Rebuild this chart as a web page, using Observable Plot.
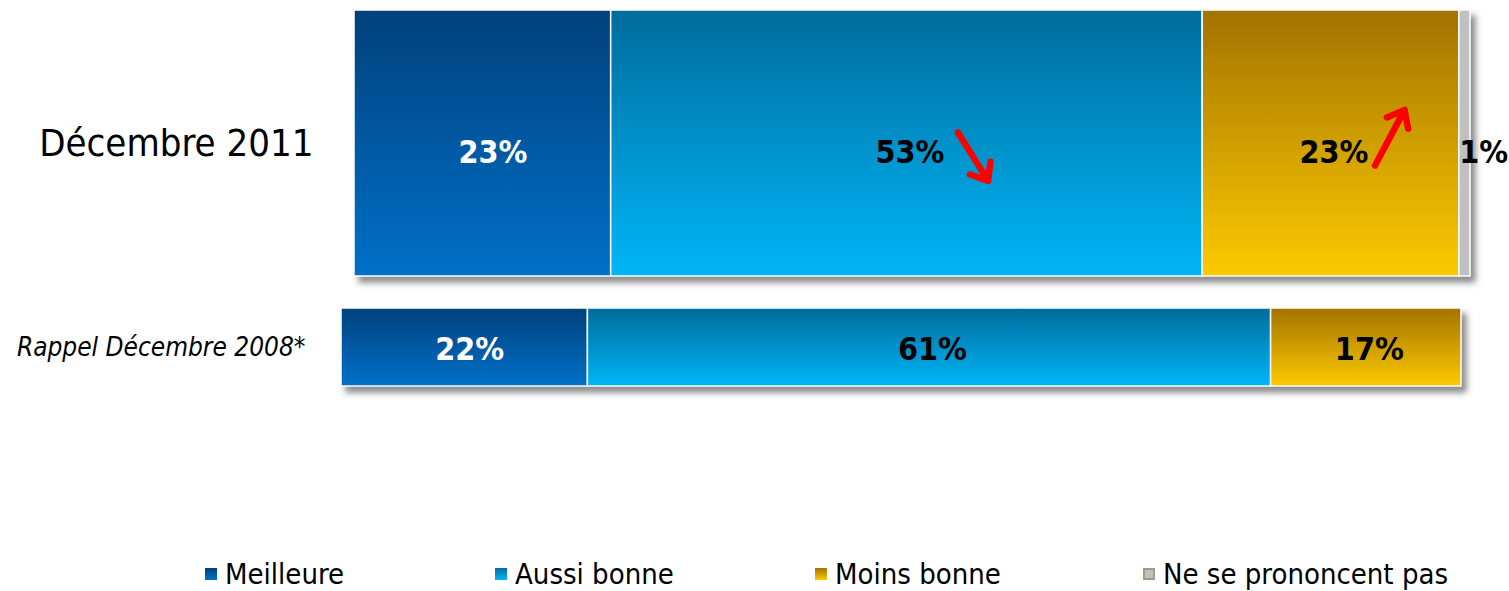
<!DOCTYPE html>
<html>
<head>
<meta charset="utf-8">
<script src="https://cdn.jsdelivr.net/npm/d3@7"></script>
<script src="https://cdn.jsdelivr.net/npm/@observablehq/plot@0.6"></script>
<style>
  body { margin: 0; background: #fff; width: 1509px; height: 591px; overflow: hidden;
         font-family: "DejaVu Sans Condensed", "DejaVu Sans", sans-serif; font-stretch: condensed; }
  svg text { font-family: "DejaVu Sans Condensed", "DejaVu Sans", sans-serif; font-stretch: condensed; }
  svg g[aria-label="bar"] { filter: drop-shadow(5px 6px 3px rgba(0,0,0,0.45)); }
  #legend { position: relative; margin-top: 153px; padding-left: 205px; height: 36px; white-space: nowrap;
            font-size: 29px; line-height: 34px; color: #000; }
  .item { display: inline-flex; align-items: center; }
  .sw { width: 12px; height: 12px; margin-right: 8px; box-sizing: border-box; }
</style>
</head>
<body>
<svg width="0" height="0" style="position:absolute"><defs id="grads"></defs></svg>
<div id="chart"></div>
<div id="legend"></div>
<script>
// ---- data ----
const categories = ["Meilleure", "Aussi bonne", "Moins bonne", "Ne se prononcent pas"];
const periods = ["Décembre 2011", "Rappel Décembre 2008*"];
const values2011 = [23, 53, 23, 1];
const values2008 = [22, 61, 17, 0];
const trend2011 = ["", "down", "up", ""];
const trend2008 = ["", "", "", ""];

// ---- styles ----
const gradTop = ["#00417c", "#006c9c", "#a27300", "#c0c0c0"];
const gradBottom = ["#0070c8", "#00b6f8", "#fdca00", "#c0c0c0"];
const legendBorder = ["#0a4f8c", "#1a8cc0", "#c89a10", "#a89a80"];
const labelColor = ["white", "black", "black", "black"];
const legendWidths = [290, 320, 328, 340];

const gradIds = categories.map((c, i) => `grad${i}`);
const defs = d3.select("#grads");
categories.forEach((c, i) => {
  const g = defs.append("linearGradient").attr("id", gradIds[i])
    .attr("x1", 0).attr("y1", 0).attr("x2", 0).attr("y2", 1);
  g.append("stop").attr("offset", "0%").attr("stop-color", gradTop[i]);
  g.append("stop").attr("offset", "100%").attr("stop-color", gradBottom[i]);
});

const arrowShape = {
  draw(context, l) {
    const w = 12, h = 15;
    context.moveTo(0, 0);
    context.lineTo(0, -l + 2);
    context.moveTo(-w, -l + h);
    context.lineTo(0, -l);
    context.lineTo(w, -l + h);
  }
};

function rowPlot(period, values, trends, opt) {
  const data = categories.map((c, i) => ({period, category: c, value: values[i], trend: trends[i], idx: i}))
    .filter(d => d.value > 0);
  return Plot.plot({
    width: 1509,
    height: opt.height,
    marginLeft: opt.left,
    marginRight: opt.right,
    marginTop: opt.top,
    marginBottom: opt.bottom,
    x: {domain: [0, 100], axis: null},
    y: {domain: [period], padding: 0, axis: null},
    color: {type: "ordinal", domain: categories, range: gradIds.map(id => `url(#${id})`)},
    marks: [
      Plot.barX(data, Plot.stackX({x: "value", y: "period", fill: "category", stroke: "#fff", strokeWidth: 1.5})),
      Plot.text(data, Plot.stackX({x: "value", y: "period", text: d => d.value >= 5 && labelColor[d.idx] === "white" ? d.value + "%" : null,
        fill: "white", fontWeight: "bold", fontSize: opt.fs, dy: opt.ldy, dx: opt.wdx})),
      Plot.text(data, Plot.stackX({x: "value", y: "period", text: d => d.value >= 5 && labelColor[d.idx] === "black" ? d.value + "%" : null,
        fill: "black", fontWeight: "bold", fontSize: opt.fs, dy: opt.ldy, dx: 3})),
      Plot.text(data, Plot.stackX1({x: "value", y: "period", text: d => d.value < 5 ? d.value + "%" : null,
        fill: "black", fontWeight: "bold", fontSize: opt.fs, textAnchor: "start", dy: opt.ldy})),
      Plot.vector(data, Plot.stackX({x: "value", y: "period", rotate: d => d.trend === "down" ? 148 : NaN,
        length: 57, anchor: "start", shape: arrowShape, stroke: "#ff0000", strokeWidth: 6.5,
        strokeLinejoin: "round", dx: 51, dy: -11})),
      Plot.vector(data, Plot.stackX({x: "value", y: "period", rotate: d => d.trend === "up" ? 28 : NaN,
        length: 63, anchor: "start", shape: arrowShape, stroke: "#ff0000", strokeWidth: 6.5,
        strokeLinejoin: "round", dx: 44, dy: 22})),
      Plot.axisY({tickSize: 0, tickPadding: opt.pad, fontSize: opt.yfs, fontStyle: opt.italic ? "italic" : "normal", label: null, fill: "black"})
    ]
  });
}

const chart = document.getElementById("chart");
chart.append(rowPlot(periods[0], values2011, trend2011,
  {height: 290, left: 354, right: 39, top: 10, bottom: 14, fs: 32, ldy: 9, yfs: 38, pad: 41, italic: false, wdx: 10}));
chart.append(rowPlot(periods[1], values2008, trend2008,
  {height: 110, left: 341, right: 48, top: 18, bottom: 14, fs: 32, ldy: 2, yfs: 26, pad: 36, italic: true, wdx: 5}));

// ---- legend ----
const legend = d3.select("#legend");
categories.forEach((c, i) => {
  const it = legend.append("span").attr("class", "item").style("width", legendWidths[i] + "px");
  it.append("span").attr("class", "sw")
    .style("background", `linear-gradient(${gradTop[i]}, ${gradBottom[i]})`)
    .style("border", i === 3 ? `2px solid ${legendBorder[i]}` : "none");
  it.append("span").text(c);
});
</script>
</body>
</html>
